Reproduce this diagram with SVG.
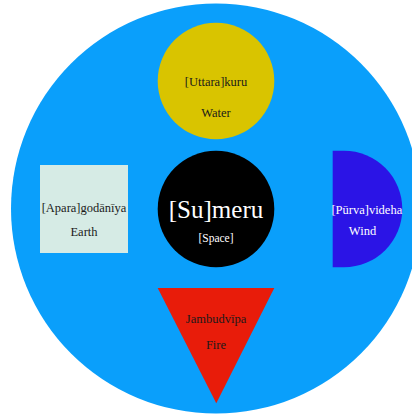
<svg xmlns="http://www.w3.org/2000/svg" width="412" height="414" viewBox="0 0 412 414">
<style>
text{font-family:"Liberation Serif","DejaVu Serif",serif;text-anchor:middle;font-size:12.5px;fill:#1a1a1a}
.w{fill:#ffffff}
</style>
<rect width="412" height="414" fill="#ffffff"/>
<g id="ocean"><circle cx="216" cy="208.5" r="205" fill="#0a9ffb"/></g>
<g id="connectors"></g>
<g id="uttarakuru">
<circle cx="216" cy="81" r="58.3" fill="#d9c400"/>
<text x="216" y="85.5">[Uttara]kuru</text>
<text x="216" y="116.5">Water</text>
</g>
<g id="aparagodaniya">
<rect x="40" y="165" width="88" height="88" fill="#d6ebe5"/>
<text x="84" y="212">[Apara]godānīya</text>
<text x="84" y="236">Earth</text>
</g>
<g id="sumeru">
<circle cx="216" cy="209" r="58.3" fill="#000000"/>
<text class="w" x="216" y="217.5" style="font-size:25px">[Su]meru</text>
<text class="w" x="216" y="241.5" style="font-size:11.5px">[Space]</text>
</g>
<g id="purvavideha">
<path d="M332.7,150.7 H344 A58.3,58.3 0 0 1 344,267.3 H332.7 Z" fill="#2b14e6"/>
<text class="w" x="366.8" y="214">[Pūrva]videha</text>
<text class="w" x="362.5" y="235">Wind</text>
</g>
<g id="jambudvipa">
<polygon points="157.7,288 274.3,288 216.3,403.3" fill="#e81c0a"/>
<text x="216" y="322.7">Jambudvīpa</text>
<text x="216" y="349.3">Fire</text>
</g>
</svg>
